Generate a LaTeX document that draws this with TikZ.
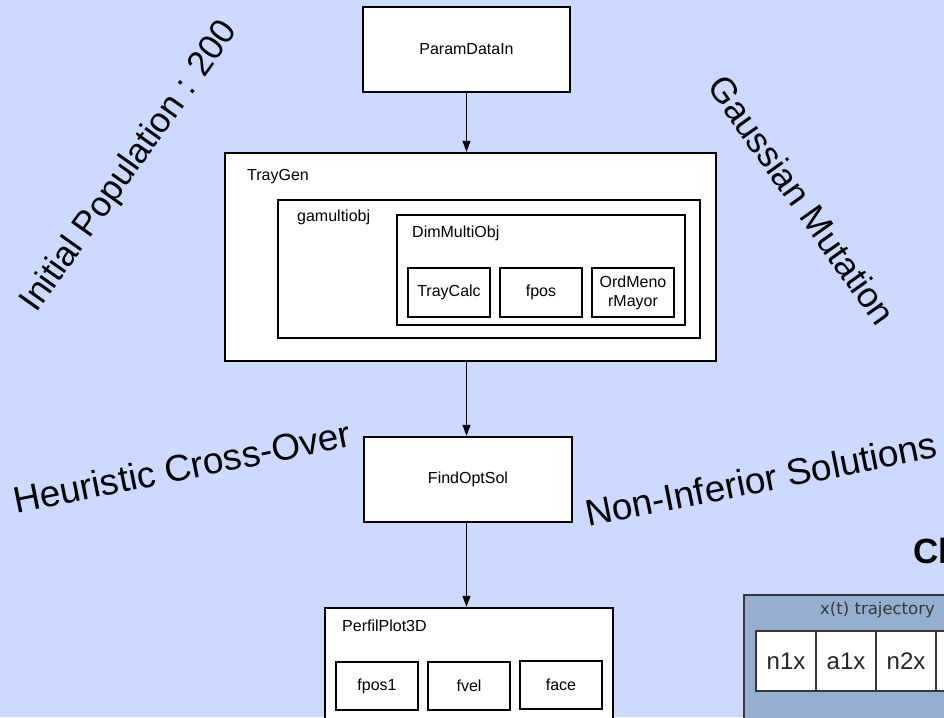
\documentclass[tikz,border=0pt]{standalone}
\usepackage{fontspec}
\setmainfont{Liberation Sans}
\newfontfamily\dejavu{DejaVu Sans}
\usetikzlibrary{arrows.meta}
\definecolor{bgblue}{RGB}{204,218,255}
\definecolor{trajblue}{RGB}{150,174,207}
\definecolor{trajedge}{RGB}{55,55,55}
\tikzset{
	block/.style={draw=black, fill=white, line width=2.5pt, rectangle, inner sep=0pt,
		font=\fontsize{16}{19}\selectfont, align=center},
	blocklabel/.style={anchor=base west, inner sep=0pt, font=\fontsize{16}{19}\selectfont},
	biglabel/.style={inner sep=0pt, font=\fontsize{37}{44}\selectfont},
	flow/.style={line width=1pt, -{Triangle[length=11pt, width=8pt]}},
	cell/.style={draw=trajedge, fill=white, line width=1.5pt, minimum width=60pt,
		minimum height=60pt, inner sep=0pt, text=black!85, font=\fontsize{24}{28}\selectfont}
}

\begin{document}
\begin{tikzpicture}[x=1pt, y=-1pt]
	\useasboundingbox (0, 0) rectangle (944, 717);
	\clip (0, 0) rectangle (944, 717);
	\fill[bgblue] (0, 0) rectangle (944, 717);
	% main chain
	\node[block, minimum width=207pt, minimum height=85pt] (pdata) at (466.5, 49.5) {ParamDataIn};
	\node[block, minimum width=491pt, minimum height=208pt] (traygen) at (470.5, 257) {};
	\node[block, minimum width=422pt, minimum height=138pt] (gamulti) at (489, 269) {};
	\node[block, minimum width=288pt, minimum height=110pt] (dimmulti) at (541, 270) {};
	\node[block, minimum width=82pt, minimum height=49pt] (traycalc) at (449, 292.5) {TrayCalc};
	\node[block, minimum width=82pt, minimum height=49pt] (fpos) at (541, 292.5) {fpos};
	\node[block, minimum width=82pt, minimum height=49pt] (ordmm) at (633, 292.5) {OrdMeno\\rMayor};
	\node[block, minimum width=208pt, minimum height=85pt] (findopt) at (468, 479.5) {FindOptSol};
	\node[block, minimum width=288pt, minimum height=132pt] (perfil) at (469, 674) {};
	\node[block, minimum width=82pt, minimum height=48pt] (fpos1) at (377, 686) {fpos1};
	\node[block, minimum width=82pt, minimum height=48pt] (fvel) at (469, 686) {fvel};
	\node[block, minimum width=82pt, minimum height=48pt] (face) at (561, 685) {face};
	\node[blocklabel] (traygenlbl) at (247, 180) {TrayGen};
	\node[blocklabel] (gamultilbl) at (297, 221) {gamultiobj};
	\node[blocklabel] (dimmultilbl) at (412, 237) {DimMultiObj};
	\node[blocklabel] (perfillbl) at (342, 631) {PerfilPlot3D};
	\draw[flow] (pdata.south) -- (pdata.south |- traygen.north);
	\draw[flow] (traygen.south -| pdata.south) -- (findopt.north -| pdata.south);
	\draw[flow] (findopt.south -| pdata.south) -- (perfil.north -| pdata.south);
	% operator labels
	\node[biglabel, rotate=54.6, font=\fontsize{35}{42}\selectfont] (initpop) at (130, 167) {Initial Population : 200};
	\node[biglabel, rotate=-54.7, font=\fontsize{35.5}{42}\selectfont] (gaussmut) at (802, 200) {Gaussian Mutation};
	\node[biglabel, rotate=11.3] (heurcross) at (182, 467) {Heuristic Cross-Over};
	\node[biglabel, rotate=11.2] (noninf) at (761, 479) {Non-Inferior Solutions};
	\node[anchor=base west, inner sep=0pt, font=\bfseries\fontsize{35}{42}\selectfont] (chromtitle) at (913, 563) {Cl};
	% trajectory
	\node[draw=trajedge, fill=trajblue, line width=2pt, anchor=north west,
		minimum width=260pt, minimum height=150pt] (traj) at (743, 594) {};
	\node[anchor=base west, inner sep=0pt, text=trajedge, font=\dejavu\fontsize{16.5}{20}\selectfont] (trajlbl) at (820, 614) {x(t) trajectory};
	\foreach \txt [count=\i] in {n1x, a1x, n2x, {}}
		\node[cell] (c\i) at (726+60*\i, 661) {\txt};
\end{tikzpicture}
\end{document}
